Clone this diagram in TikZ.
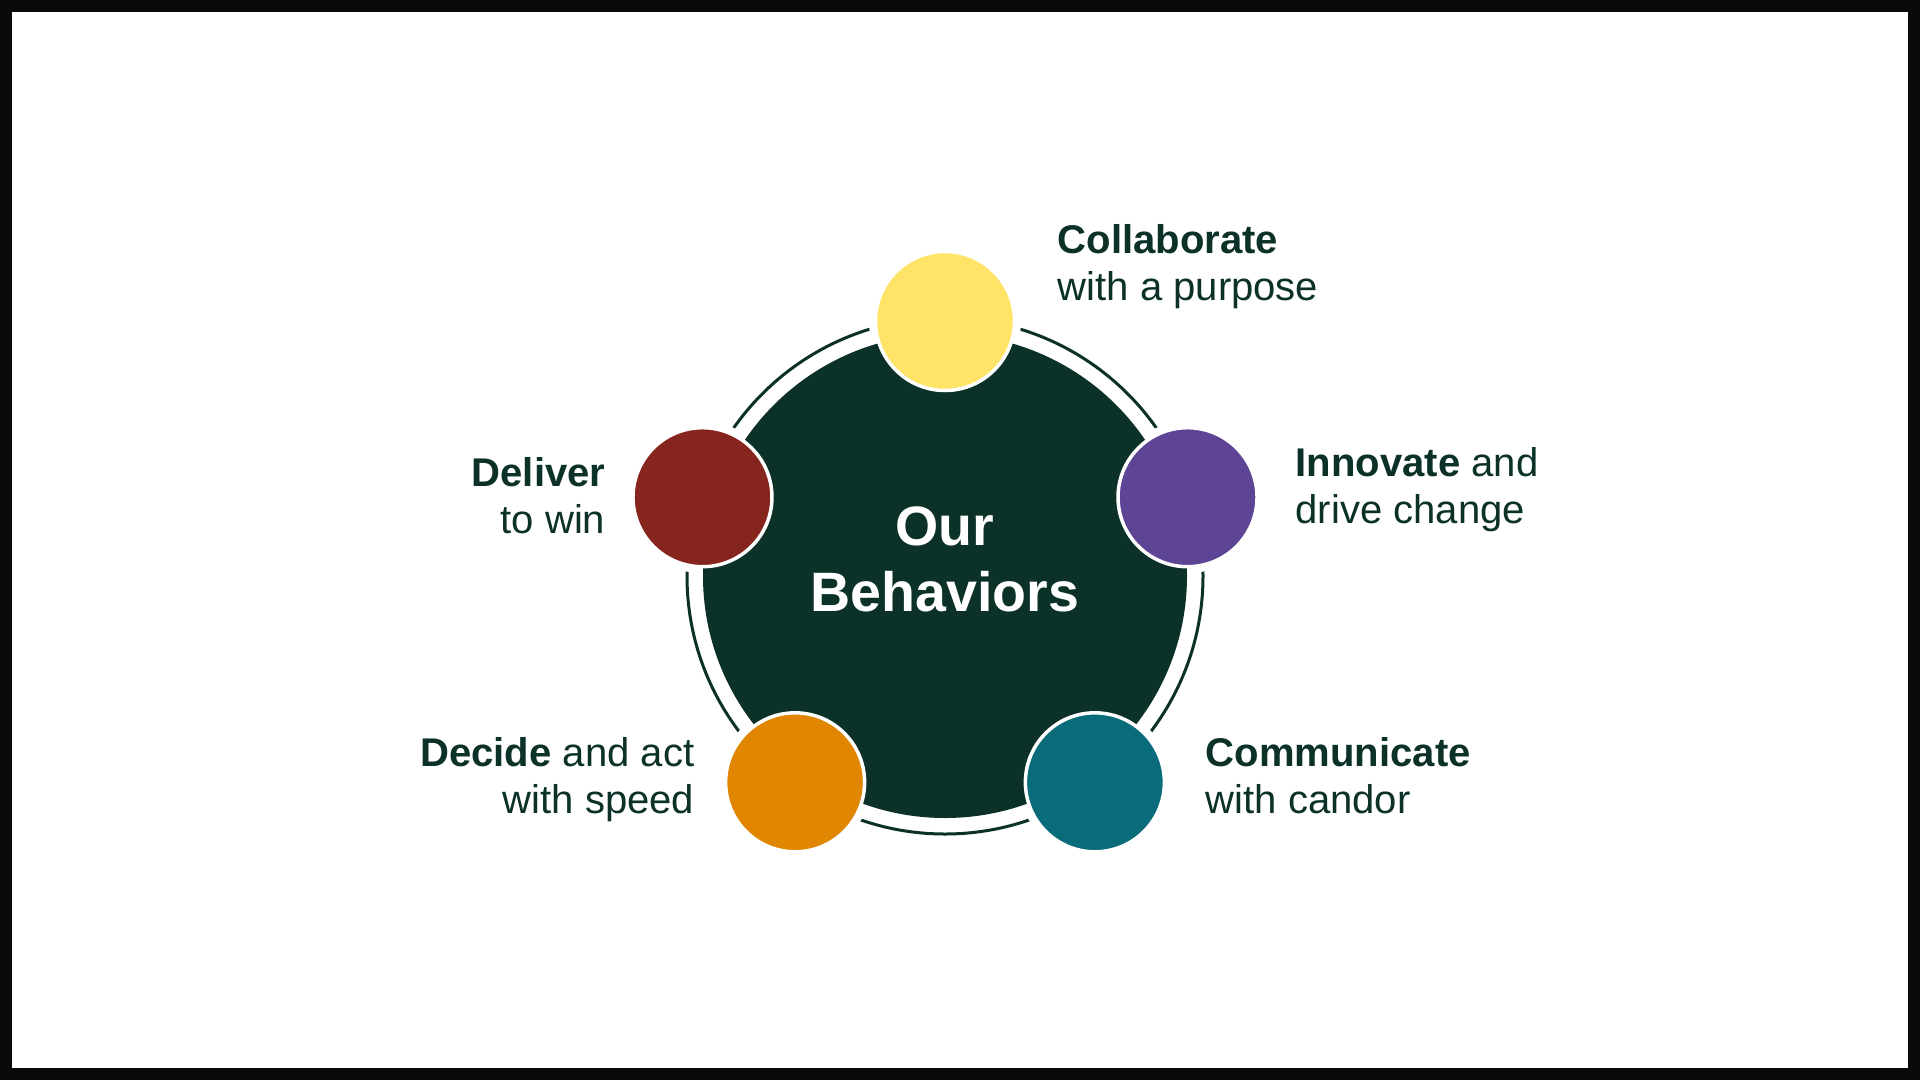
\documentclass[tikz,border=0pt]{standalone}
\usepackage{fontspec}
\setmainfont{Liberation Sans}
\definecolor{forest}{HTML}{0B3128}
\definecolor{frame}{HTML}{0A0A0A}
\definecolor{sun}{HTML}{FFE468}
\definecolor{plum}{HTML}{5E4494}
\definecolor{brick}{HTML}{86251D}
\definecolor{amber}{HTML}{E08600}
\definecolor{lagoon}{HTML}{0A6B7A}
\tikzset{
  behavior/.style={circle, minimum size=13.9mm, draw=white, line width=0.35mm, inner sep=0pt},
  caption/.style={text=forest, font=\fontsize{11.4pt}{13.1pt}\selectfont},
}

\begin{document}
\begin{tikzpicture}[x=0.1mm, y=0.1mm]
            \useasboundingbox (0,0) rectangle (1920,1080);
            \fill[frame] (0,0) rectangle (1920,1080);
            \fill[white] (12,12) rectangle (1908,1068);

            \coordinate (hub) at (945,504);
            \foreach \name/\ang in {collab/90, innov/18, comm/-54, decide/234, deliver/162}
                \coordinate (\name) at ([shift={(\ang:255)}]hub);

            \draw[forest, line width=0.3mm] (hub) circle (258);
            % gaps in the ring round each dot
            \foreach \name in {collab, innov, comm, decide, deliver}
                \fill[white] (\name) circle (76);
            \fill[forest] (hub) circle (242);
            \node[text=white, align=center, anchor=base, font=\fontsize{15.8pt}{18.5pt}\selectfont\bfseries] (core) at (945,469) {Our\\Behaviors};

            \node[behavior, fill=sun] (collab-dot) at (collab) {};
            \node[behavior, fill=plum] (innov-dot) at (innov) {};
            \node[behavior, fill=lagoon] (comm-dot) at (comm) {};
            \node[behavior, fill=amber] (decide-dot) at (decide) {};
            \node[behavior, fill=brick] (deliver-dot) at (deliver) {};

            \node[caption, align=left, anchor=base west, inner sep=0pt] (collab-text) at (1057,780) {\textbf{Collaborate}\\with a purpose};
            \node[caption, align=left, anchor=base west, inner sep=0pt] (innov-text) at (1295,557) {\textbf{Innovate} and\\drive change};
            \node[caption, align=left, anchor=base west, inner sep=0pt] (comm-text) at (1205,267) {\textbf{Communicate}\\with candor};
            \node[caption, align=right, anchor=base east, inner sep=0pt] (decide-text) at (695,267) {\textbf{Decide} and act\\with speed};
            \node[caption, align=right, anchor=base east, inner sep=0pt] (deliver-text) at (606,547) {\textbf{Deliver}\\to win};
        \end{tikzpicture}
\end{document}
